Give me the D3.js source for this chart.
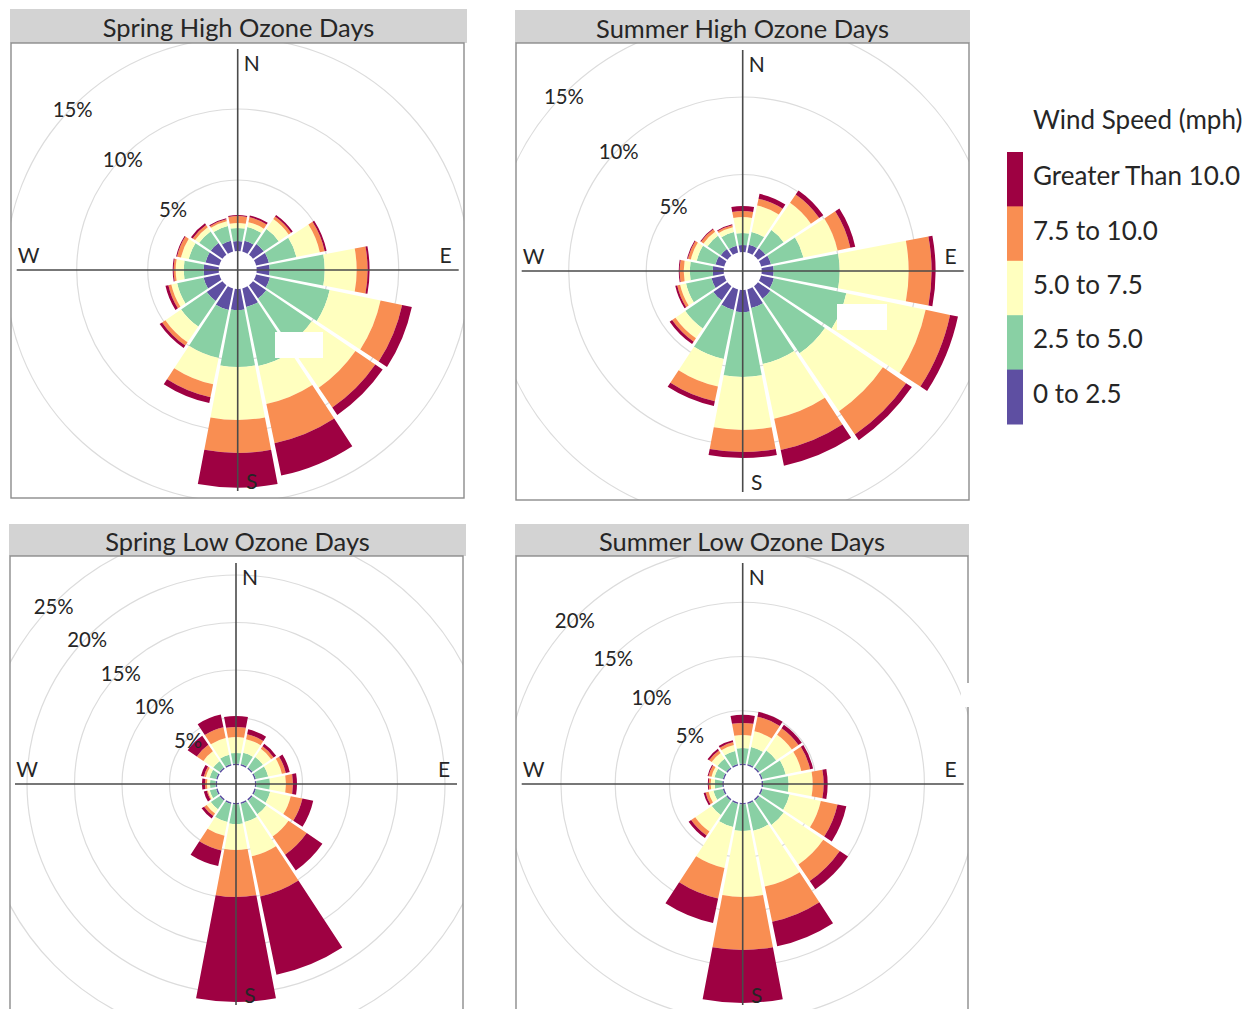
<!DOCTYPE html>
<html>
<head>
<meta charset="utf-8">
<script src="https://cdn.jsdelivr.net/npm/d3@7"></script>
<style>
  body { margin: 0; background: #fff; }
  svg { display: block; }
</style>
</head>
<body>
<svg id="chart" width="1249" height="1009"></svg>
<script>
// Compass sectors, clockwise from north
const directions = ["N","NNE","NE","ENE","E","ESE","SE","SSE","S","SSW","SW","WSW","W","WNW","NW","NNW"];

// Wind speed classes (mph), innermost first
const speedBins = ["0 to 2.5","2.5 to 5.0","5.0 to 7.5","7.5 to 10.0","Greater Than 10.0"];
const binColors = ["#5e4fa2","#89d0a4","#ffffbf","#f98e52","#9e0142"];

// Frequency (% of hours) per direction; columns follow speedBins
const springHigh = [
  [0.70, 0.92, 0.35, 0.49, 0.07],
  [0.77, 0.99, 0.35, 0.35, 0.14],
  [0.92, 1.27, 0.85, 0.21, 0.14],
  [0.92, 1.97, 1.69, 0.35, 0.14],
  [0.92, 3.87, 2.25, 0.77, 0.14],
  [0.99, 4.30, 3.66, 1.55, 0.70],
  [1.13, 3.87, 3.73, 1.69, 0.63],
  [1.34, 4.23, 2.75, 2.82, 2.32],
  [1.48, 4.01, 3.73, 2.32, 2.46],
  [1.55, 3.45, 1.90, 0.92, 0.42],
  [1.34, 2.18, 1.34, 0.28, 0.21],
  [1.13, 1.90, 0.42, 0.21, 0.21],
  [1.06, 1.41, 0.56, 0.14, 0.07],
  [0.99, 1.20, 0.56, 0.28, 0.07],
  [0.99, 0.99, 0.35, 0.21, 0.14],
  [0.77, 1.06, 0.35, 0.14, 0.07]
];

const summerHigh = [
  [0.45, 0.77, 1.03, 0.39, 0.32],
  [0.52, 0.84, 1.74, 0.45, 0.32],
  [0.58, 1.42, 2.13, 0.65, 0.32],
  [0.65, 2.13, 2.26, 0.84, 0.32],
  [0.77, 4.26, 4.45, 1.48, 0.26],
  [0.84, 4.77, 5.23, 1.61, 0.52],
  [0.97, 4.26, 4.52, 1.81, 0.45],
  [1.23, 3.68, 3.61, 2.06, 1.03],
  [1.42, 4.19, 3.42, 1.42, 0.39],
  [1.35, 3.23, 1.81, 0.97, 0.32],
  [1.10, 2.19, 0.77, 0.26, 0.19],
  [0.84, 1.68, 0.39, 0.19, 0.13],
  [0.71, 1.48, 0.39, 0.26, 0.06],
  [0.58, 1.23, 0.39, 0.19, 0.06],
  [0.52, 1.03, 0.32, 0.19, 0.06],
  [0.45, 0.90, 0.32, 0.13, 0.06]
];

const springLow = [
  [0.16, 1.11, 1.68, 1.05, 1.16],
  [0.16, 1.21, 1.47, 0.53, 0.53],
  [0.16, 1.32, 1.05, 0.32, 0.32],
  [0.16, 1.32, 1.47, 0.42, 0.42],
  [0.16, 1.42, 1.68, 0.74, 0.42],
  [0.16, 1.53, 2.21, 1.26, 1.16],
  [0.16, 1.74, 2.84, 2.32, 2.00],
  [0.16, 1.95, 3.68, 4.32, 8.42],
  [0.16, 2.05, 2.74, 4.95, 11.05],
  [0.16, 1.95, 1.47, 1.58, 1.68],
  [0.16, 1.11, 0.53, 0.32, 0.32],
  [0.16, 0.68, 0.21, 0.11, 0.32],
  [0.16, 0.58, 0.32, 0.21, 0.32],
  [0.16, 0.68, 0.42, 0.21, 0.32],
  [0.16, 0.79, 1.26, 0.84, 1.16],
  [0.16, 1.00, 1.79, 1.16, 1.37]
];

const summerLow = [
  [0.14, 1.43, 1.20, 1.11, 0.74],
  [0.14, 1.61, 1.47, 1.38, 0.46],
  [0.14, 1.89, 1.75, 0.74, 0.37],
  [0.14, 2.17, 1.47, 0.83, 0.28],
  [0.14, 2.35, 2.21, 1.01, 0.37],
  [0.14, 2.53, 2.95, 1.57, 0.83],
  [0.14, 2.72, 4.42, 1.84, 0.92],
  [0.14, 2.53, 5.25, 3.32, 2.30],
  [0.14, 2.44, 6.08, 4.88, 4.88],
  [0.14, 2.17, 3.87, 2.86, 2.30],
  [0.14, 1.61, 1.84, 0.46, 0.28],
  [0.14, 0.88, 0.46, 0.28, 0.18],
  [0.14, 0.69, 0.37, 0.18, 0.09],
  [0.14, 0.78, 0.28, 0.28, 0.09],
  [0.14, 0.97, 0.65, 0.28, 0.18],
  [0.14, 1.24, 0.55, 0.28, 0.18]
];

// Radial grid rings (%) for each panel
const springHighTicks = [5, 10, 15];
const summerHighTicks = [5, 10, 15];
const springLowTicks  = [5, 10, 15, 20, 25];
const summerLowTicks  = [5, 10, 15, 20];

const panelTitles = ["Spring High Ozone Days","Summer High Ozone Days","Spring Low Ozone Days","Summer Low Ozone Days"];
const legendTitle = "Wind Speed (mph)";

// Panel layout: rose centre, pixels per percent, header strip, plot frame, blank note boxes
const layout = [
  { cx: 237.7, cy: 270, k: 14.2,  header: [10, 9, 457, 34],  frame: [11, 43, 453, 455],  boxes: [[275, 332, 48, 26]] },
  { cx: 742.7, cy: 271, k: 15.5,  header: [515, 10, 455, 33], frame: [516, 43, 453, 457], boxes: [[837, 304, 50, 26]] },
  { cx: 236,   cy: 784, k: 9.5,   header: [9, 524, 457, 32],  frame: [10, 556, 453, 470], boxes: [] },
  { cx: 742.7, cy: 784, k: 10.85, header: [515, 524, 454, 32], frame: [516, 556, 452, 470], boxes: [] }
];
const panelData  = [springHigh, summerHigh, springLow, summerLow];
const panelTicks = [springHighTicks, summerHighTicks, springLowTicks, summerLowTicks];

const HOLE = 19;                       // calm-centre radius
const FONT = "Lato, 'Open Sans', sans-serif";
const TEXT = "#262626";

const svg = d3.select("#chart");
const defs = svg.append("defs");

const sectorHalf = Math.PI / directions.length;           // half of 22.5 deg
const sectorGap = 0.5 * Math.PI / 180;                    // angular gap at each edge

const angle = d3.scalePoint().domain(directions).range([0, 2 * Math.PI * (directions.length - 1) / directions.length]);
const colour = d3.scaleOrdinal().domain(speedBins).range(binColors);

const arc = d3.arc()
  .innerRadius(d => d.r0)
  .outerRadius(d => d.r1)
  .startAngle(d => d.a - sectorHalf + sectorGap)
  .endAngle(d => d.a + sectorHalf - sectorGap)
  .padAngle(0.015)
  .padRadius(100);

const titleNodes = [];
const tickNodes = [];
const compassNodes = [];

panelTitles.forEach((title, i) => {
  const L = layout[i];
  const data = panelData[i];
  const ticks = panelTicks[i];
  const tmax = d3.max(ticks);
  const radius = d3.scaleLinear().domain([0, tmax]).range([HOLE, HOLE + L.k * tmax]);

  const g = svg.append("g");

  // header strip
  g.append("rect")
    .attr("x", L.header[0]).attr("y", L.header[1])
    .attr("width", L.header[2]).attr("height", L.header[3])
    .attr("fill", "#d3d3d3");
  const t = g.append("text")
    .attr("x", L.header[0] + L.header[2] / 2)
    .attr("y", L.header[1] + L.header[3] / 2 + 1)
    .attr("text-anchor", "middle")
    .attr("dominant-baseline", "central")
    .attr("font-family", FONT).attr("font-size", 22)
    .attr("fill", TEXT)
    .text(title);
  titleNodes.push(t);

  // plot frame + clip
  const [fx, fy, fw, fh] = L.frame;
  defs.append("clipPath").attr("id", "clip" + i)
    .append("rect").attr("x", fx).attr("y", fy).attr("width", fw).attr("height", fh);
  g.append("rect").attr("x", fx).attr("y", fy).attr("width", fw).attr("height", fh)
    .attr("fill", "#fff");

  const plot = g.append("g").attr("clip-path", `url(#clip${i})`)
    .append("g").attr("transform", `translate(${L.cx},${L.cy})`);

  // grid rings
  plot.selectAll("circle.ring").data(ticks).join("circle")
    .attr("class", "ring")
    .attr("r", d => radius(d))
    .attr("fill", "none")
    .attr("stroke", "#dcdcdc")
    .attr("stroke-width", 1.2);

  // stacked sector bars
  const segs = [];
  data.forEach((row, di) => {
    let cum = 0;
    row.forEach((v, bi) => {
      segs.push({ a: angle(directions[di]), r0: radius(cum), r1: radius(cum + v), bin: speedBins[bi] });
      cum += v;
    });
  });
  plot.selectAll("path.seg").data(segs).join("path")
    .attr("class", "seg")
    .attr("d", arc)
    .attr("fill", d => colour(d.bin));

  // compass axes
  const ext = 221;
  plot.append("line").attr("x1", -ext).attr("x2", ext).attr("y1", 0).attr("y2", 0)
    .attr("stroke", "#4a4a4a").attr("stroke-width", 1.6);
  plot.append("line").attr("x1", 0).attr("x2", 0).attr("y1", -ext).attr("y2", ext)
    .attr("stroke", "#4a4a4a").attr("stroke-width", 1.6);

  // blank note boxes sitting over the rose
  L.boxes.forEach(b => {
    g.append("rect").attr("x", b[0]).attr("y", b[1]).attr("width", b[2]).attr("height", b[3]).attr("fill", "#fff");
  });

  // frame border on top
  g.append("rect").attr("x", fx).attr("y", fy).attr("width", fw).attr("height", fh)
    .attr("fill", "none").attr("stroke", "#8c8c8c").attr("stroke-width", 1.4);
  if (i === 3) {
    // break in the right border
    g.append("rect").attr("x", 961).attr("y", 683).attr("width", 16).attr("height", 24).attr("fill", "#fff");
  }

  const lab = g.append("g").attr("clip-path", `url(#clip${i})`)
    .append("g").attr("transform", `translate(${L.cx},${L.cy})`);

  // compass letters
  const compass = [["N", 14, -208], ["S", 14, 210], ["W", -209, -16], ["E", 208, -16]];
  compassNodes.push(lab.selectAll("text.cmp").data(compass).join("text")
    .attr("class", "cmp")
    .attr("x", d => d[1]).attr("y", d => d[2])
    .attr("text-anchor", "middle").attr("dominant-baseline", "central")
    .attr("font-family", FONT).attr("font-size", 21).attr("fill", TEXT)
    .text(d => d[0]));

  // ring labels along the north-west bearing
  const nw = -Math.PI / 4;
  tickNodes.push(lab.selectAll("text.tick").data(ticks).join("text")
    .attr("class", "tick")
    .attr("x", d => radius(d) * Math.sin(nw) - 1)
    .attr("y", d => -radius(d) * Math.cos(nw) + 3)
    .attr("text-anchor", "middle").attr("dominant-baseline", "central")
    .attr("font-family", FONT).attr("font-size", 20).attr("fill", TEXT)
    .text(d => d + "%"));
});

// font sizes matched to the printed widths of the headers and ring labels
(function fitText() {
  const w = titleNodes[1].node().getComputedTextLength();
  const fs = 22 * 293 / w;
  titleNodes.forEach(t => t.attr("font-size", fs));
  const tw = tickNodes[0].filter((d, j) => j === 2).node().getComputedTextLength();
  const tfs = 20 * 40 / tw;
  tickNodes.forEach(s => s.attr("font-size", tfs));
})();

// legend
const leg = svg.append("g");
const legTop = 152, legBot = 424, legX = 1007, legW = 16;
const segH = (legBot - legTop) / speedBins.length;
const legendOrder = speedBins.slice().reverse();
leg.selectAll("rect").data(legendOrder).join("rect")
  .attr("x", legX).attr("y", (d, i) => legTop + i * segH)
  .attr("width", legW).attr("height", segH + 0.5)
  .attr("fill", d => colour(d));
const legTexts = leg.selectAll("text.lab").data(legendOrder).join("text")
  .attr("class", "lab")
  .attr("x", 1033).attr("y", (d, i) => legTop + i * segH + segH / 2 - 4)
  .attr("dominant-baseline", "central")
  .attr("font-family", FONT).attr("font-size", 22).attr("fill", TEXT)
  .text(d => d);
const legHead = leg.append("text")
  .attr("x", 1033).attr("y", 119)
  .attr("dominant-baseline", "central")
  .attr("font-family", FONT).attr("font-size", 22).attr("fill", TEXT)
  .text(legendTitle);
(function fitLegend() {
  const w = legTexts.filter((d, i) => i === 0).node().getComputedTextLength();
  const fs = 22 * 207 / w;
  legTexts.attr("font-size", fs);
  legHead.attr("font-size", fs);
})();
</script>
</body>
</html>
